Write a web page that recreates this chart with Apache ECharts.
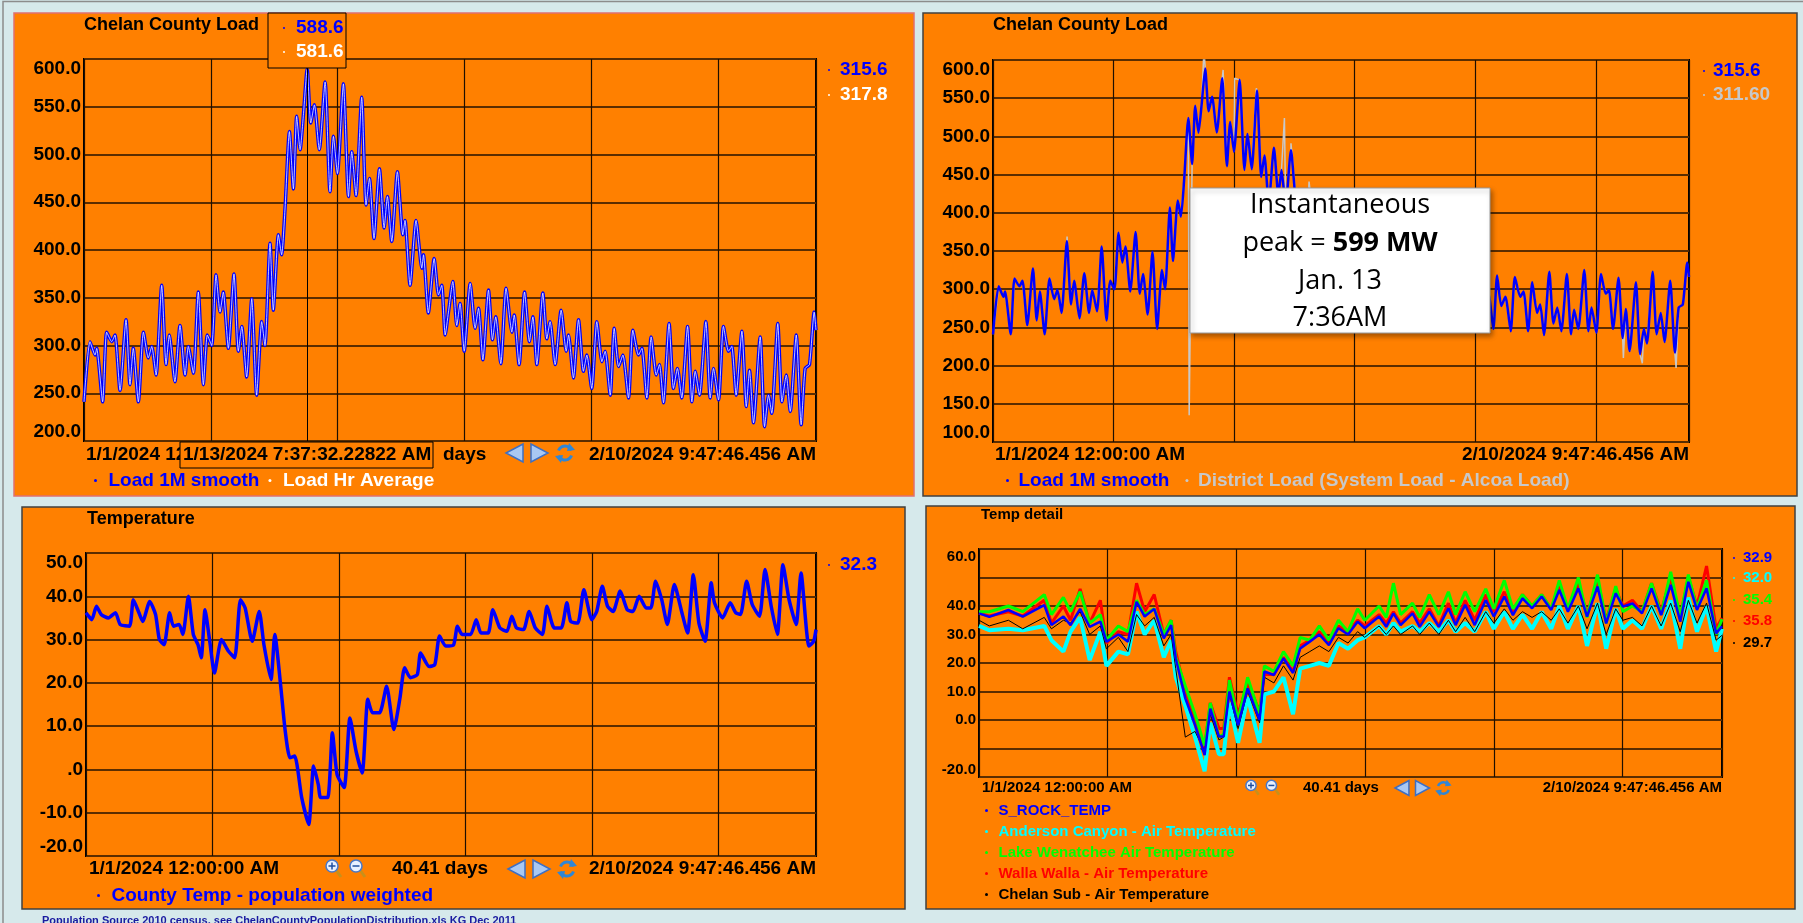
<!DOCTYPE html>
<html>
<head>
<meta charset="utf-8">
<title>Chelan County Load</title>
<script src="https://cdn.jsdelivr.net/npm/echarts@6/dist/echarts.min.js"></script>
<style>
html, body { margin: 0; padding: 0; background: #d6e9eb; overflow: hidden; }
#main { width: 1803px; height: 923px; }
</style>
</head>
<body>
<div id="main"></div>
<script>
var FONT = '"Liberation Sans", Arial, sans-serif';
var ORANGE = '#ff8000';

// x axis runs in days from 1/1/2024 12:00:00 AM
var TOTAL_DAYS = 40.41;   // 2/10/2024 9:47:46.456 AM
var CURSOR_DAY = 12.317;  // 1/13/2024 7:37:32 AM

// Load 1M smooth (MW)
var loadDays = [
  0,0.33,0.61,0.70,1.03,1.25,1.53,1.71,1.99,2.32,
  2.54,2.72,3.00,3.28,3.55,3.74,3.98,4.29,4.53,4.71,
  5.02,5.30,5.58,5.76,6.04,6.31,6.59,6.81,7.05,7.29,
  7.51,7.69,7.97,8.28,8.52,8.71,8.98,9.26,9.53,9.81,
  9.99,10.27,10.45,10.73,10.91,11.10,11.34,11.56,11.74,11.93,
  12.11,12.32,12.52,12.72,12.99,13.31,13.58,13.77,13.99,14.32,
  14.60,14.78,15.02,15.33,15.57,15.76,16.01,16.31,16.57,16.75,
  16.99,17.30,17.60,17.72,18.00,18.33,18.65,18.74,19.01,19.33,
  19.57,19.75,19.94,20.12,20.36,20.58,20.76,20.99,21.32,21.59,
  21.78,22.02,22.33,22.55,22.73,23.01,23.30,23.62,23.75,24.02,
  24.32,24.59,24.78,25.00,25.33,25.55,25.73,26.01,26.34,26.62,
  26.75,27.02,27.30,27.57,27.76,28.03,28.31,28.59,28.77,29.05,
  29.27,29.51,29.75,30.06,30.30,30.61,30.80,31.07,31.31,31.59,
  31.77,31.99,32.30,32.54,32.76,33.00,33.32,33.56,33.74,33.98,
  34.33,34.57,34.75,35.03,35.30,35.58,35.76,36.00,36.32,36.56,
  36.74,36.96,37.33,37.57,37.79,37.97,38.30,38.53,38.77,38.99,
  39.32,39.59,39.81,40.05,40.31,40.41
];
var loadMW = [
  241,304,290,297,241,314,304,311,253,327,
  259,297,241,314,287,299,269,363,280,311,
  262,321,269,299,271,356,259,311,300,374,
  335,356,297,375,294,320,267,349,248,325,
  300,407,337,416,395,444,524,464,540,505,
  541,589,533,552,505,576,461,519,480,574,
  456,503,457,560,447,475,412,485,423,456,
  409,482,416,431,363,431,381,395,334,391,
  353,363,311,335,367,321,344,294,365,318,
  339,285,358,306,330,281,360,314,332,280,
  356,304,330,280,355,307,325,280,337,294,
  311,266,327,273,290,255,325,283,294,248,
  318,278,290,245,316,290,297,245,309,269,
  280,240,323,255,276,245,320,241,273,248,
  325,245,276,243,320,294,299,248,315,236,
  274,219,309,215,248,229,323,241,269,231,
  311,217,276,280,335,316
];

// District Load extra spikes that stick out of the smooth load
var spikeDays = [4.30, 11.39, 12.25, 13.36, 14.03, 15.29, 16.92, 17.30, 18.35, 36.60, 37.70, 39.66];
var spikeMW   = [369, 135, 615, 587, 576, 563, 524, 491, 441, 210, 203, 197];

// County Temp - population weighted (F)
var tempDays = [
  0.00,0.32,0.58,0.84,1.24,1.63,1.89,2.41,2.62,2.93,
  3.14,3.53,3.85,4.06,4.32,4.63,4.84,5.15,5.36,5.67,
  5.94,6.20,6.38,6.59,6.85,7.11,7.50,7.89,8.23,8.55,
  8.81,9.20,9.59,9.85,10.24,10.45,10.77,11.03,11.29,11.55,
  11.94,12.33,12.60,12.86,12.99,13.38,13.64,13.90,14.29,14.61,
  14.95,15.29,15.60,15.86,16.25,16.64,17.04,17.38,17.64,17.95,
  18.34,18.52,18.99,19.31,19.57,19.91,20.35,20.56,20.82,21.29,
  21.60,21.87,22.26,22.52,22.91,23.30,23.57,23.83,24.22,24.53,
  24.87,25.26,25.52,25.92,26.31,26.62,26.83,27.22,27.56,28.00,
  28.27,28.58,28.87,29.18,29.57,29.96,30.28,30.62,31.01,31.27,
  31.53,31.87,32.18,32.57,32.97,33.30,33.62,33.93,34.27,34.61,
  34.79,35.24,35.66,35.97,36.23,36.57,36.88,37.28,37.59,37.93,
  38.27,38.58,38.92,39.31,39.58,40.02,40.28,40.41
];
var tempF = [
  36.2,34.6,37.7,35.8,35.0,36.2,33.5,33.1,39.2,36.2,
  34.2,38.8,35.8,30.0,28.8,36.2,33.1,33.5,31.2,40.0,
  31.2,28.8,25.8,36.9,29.6,22.3,30.0,27.3,25.8,39.2,
  37.3,29.6,36.5,28.8,20.8,31.2,19.6,8.8,2.7,3.1,
  -6.5,-12.7,0.8,-3.5,-6.5,-6.5,8.5,-1.2,-4.2,11.9,
  4.2,-0.8,16.2,13.1,13.1,19.2,9.2,16.5,23.5,21.2,
  21.9,26.9,23.8,24.2,30.8,28.5,28.8,33.1,31.2,31.2,
  34.6,31.5,31.5,36.9,32.7,31.9,35.4,32.7,32.3,36.5,
  32.7,31.2,37.7,32.7,32.7,38.5,34.2,33.8,41.5,34.6,
  36.5,42.3,37.7,36.5,41.2,36.9,36.5,40.0,37.3,37.3,
  43.5,39.2,33.5,42.7,36.5,31.5,45.0,33.8,29.6,43.1,
  38.5,35.0,38.5,36.2,35.8,43.5,38.1,35.4,46.2,37.7,
  31.2,47.3,39.2,33.5,45.4,28.5,29.6,32.3
];

// Temp detail stations, sampled at common times
var detailDays = [
  0,0.56,1.6,2.38,3.55,3.94,4.59,4.98,5.5,6.02,
  6.6,6.93,7.58,8.1,8.57,9.01,9.53,10.05,10.45,10.7,
  11.22,11.75,12.27,12.58,13.05,13.31,13.62,14.09,14.61,15.26,
  15.52,16.04,16.56,17.08,17.47,17.99,18.51,19.03,19.55,20.07,
  20.59,20.98,21.76,22.15,22.54,22.93,23.58,23.97,24.49,25.01,
  25.53,25.92,26.44,26.96,27.56,28.0,28.57,29.04,29.56,30.08,
  30.6,31.12,31.56,32.03,32.6,33.07,33.64,34.11,34.63,35.02,
  35.54,36.06,36.58,37.1,37.62,38.14,38.58,39.05,39.57,40.09,
  40.41
];
var sRockTemp = [
  37.4,36.2,38.6,36.3,40.3,33.3,36.3,33.3,39,32.7,
  34.5,27.5,30,27.5,41.5,36.3,39,28.6,33.3,21.6,
  7.6,-1.8,-12.3,4,-5.8,-5.8,10,-1.8,11.1,0,
  17,15.8,21.6,16.5,25.1,27.5,30,26.3,32.2,30,
  34.5,32.2,36.3,32.7,37.4,33.3,37.4,32.7,38,32.7,
  39.2,33.3,40.4,33.3,42.1,36.3,43.3,36.8,42.7,39.2,
  43.3,38.6,45.6,38,46.2,36.3,46.8,33.9,44.4,39.8,
  40.9,37.4,46.2,36.8,47.4,34.5,48.5,38.6,46.2,30.4,
  32.9
];
var andersonTemp = [
  33,31.5,32,31.5,33,28,24,31,36,21,
  31,19,24,23,38,30,35,22,28,15,
  5,-6,-18,-1,-12,-12,6,-8,8,-8,
  9,10,15,2,18,19,20,19,27,25,
  28,29,33,30,34,31,33,31,34,31,
  35,31,34,31,38,32,38,32,37,32,
  38,32,40,32,40,26,41,25,39,32,
  35,32,40,32,42,25,43,31,40,24,
  32.0
];
var wenatcheeTemp = [
  38,38,40,38,44,37,43,38,45,34,
  37,28,33,31,42,37,39,30,35,22,
  12,2,-9,6,-6,-5,14,0,15,2,
  19,17,24,19,29,28,33,28,35,31,
  39,35,40,36,48,37,41,36,44,37,
  45,37,45,38,46,39,49,39,44,40,
  44,39,49,39,50,36,51,34,47,38,
  40,38,48,37,52,36,51,39,49,30,
  35.4
];
var wallaTemp = [
  37.5,36.5,38,36.5,42,34,40,35,46,34,
  42,27,31,30,48,38,44,30,35,24,
  10,0,-10,6,-3,-3,15,2,13,3,
  16,16,22,17,26,28,31,27,33,31,
  35,33,37,34,38,34,38,34,39,33,
  41,34,42,35,44,38,45,38,44,40,
  44,39,47,39,48,37,49,35,46,40,
  42,38,48,38,50,36,50,40,54,32,
  35.8
];
var chelanSubTemp = [
  35,33,35,32,36,32,35,34,38,30,
  33,25,29,24,37,33,36,26,30,18,
  -6,-4,-11,2,-7,-6,9,-3,10,-1,
  15,13,19,14,22,24,26,24,29,27,
  31,29,33,30,33,30,33,30,34,30,
  35,31,36,31,38,34,39,35,38,36,
  38,35,39,34,40,32,41,30,39,35,
  36,33,40,33,41,31,42,34,41,28,
  29.7
];

var startLabel = '1/1/2024 12:00:00 AM';
var endLabel = '2/10/2024 9:47:46.456 AM';
var cursorLabel = '1/13/2024 7:37:32.22822 AM';
var spanLabel = '40.41 days';

function pairs(xs, ys) {
  return xs.map(function (x, i) { return [x, ys[i]]; });
}
var loadPts = pairs(loadDays, loadMW);
var districtPts = loadPts.concat(pairs(spikeDays, spikeMW)).sort(function (a, b) { return a[0] - b[0]; });

var chart = echarts.init(document.getElementById('main'), null, { renderer: 'canvas' });

// grids in page pixels
var grids = [
  { left: 84, top: 59, width: 732, height: 382 },
  { left: 993, top: 60, width: 696, height: 382 },
  { left: 86, top: 553, width: 730, height: 303 },
  { left: 979, top: 549, width: 743, height: 228 }
];
grids.forEach(function (g) {
  g.show = true; g.borderColor = '#000'; g.borderWidth = 2; g.backgroundColor = 'transparent';
});

function xAx(i) {
  return {
    type: 'value', gridIndex: i, min: 0, max: TOTAL_DAYS, interval: 7,
    axisLabel: { show: false }, axisTick: { show: false }, axisLine: { show: false },
    splitLine: { show: true, lineStyle: { color: '#1e0f00', width: 1.2 } }
  };
}
function yAx(i, min, max, step, size, fmt) {
  return {
    type: 'value', gridIndex: i, min: min, max: max, interval: step,
    axisTick: { show: false }, axisLine: { show: false },
    splitLine: { show: true, lineStyle: { color: '#5a2d00', width: 2 } },
    axisLabel: {
      color: '#000', fontWeight: 'bold', fontSize: size, fontFamily: FONT, margin: 3,
      verticalAlignMaxLabel: 'top', verticalAlignMinLabel: 'bottom',
      formatter: fmt || function (v) { return v.toFixed(1); }
    }
  };
}

function line(name, idx, data, color, width, z, smooth) {
  return {
    name: name, type: 'line', xAxisIndex: idx, yAxisIndex: idx, data: data,
    showSymbol: false, symbol: 'none', silent: true, z: z || 2, smooth: smooth || false,
    lineStyle: { color: color, width: width }, itemStyle: { color: color },
    emphasis: { disabled: true }
  };
}

var s0 = line('Load 1M smooth', 0, loadPts, '#0000ff', 3.5, 3, 0.2);
s0.markLine = {
  silent: true, symbol: 'none', label: { show: false }, animation: false,
  lineStyle: { color: '#000', width: 1, type: 'solid' },
  data: [{ xAxis: CURSOR_DAY }]
};
var s1 = line('Load Hr Average', 0, loadPts, '#ffffff', 0.9, 4, 0.2);
s1.lineStyle.opacity = 0.85;

var series = [
  s0,
  s1,
  line('District Load (System Load - Alcoa Load)', 1, districtPts, '#c8c8c8', 1.5, 2),
  line('Load 1M smooth', 1, loadPts, '#0000ff', 2.5, 3, 0.2),
  line('County Temp - population weighted', 2, pairs(tempDays, tempF), '#0000ff', 3.5, 3, 0.2),
  line('Walla Walla - Air Temperature', 3, pairs(detailDays, wallaTemp), '#ff0000', 3, 2),
  line('Lake Wenatchee Air Temperature', 3, pairs(detailDays, wenatcheeTemp), '#00ff00', 3, 3),
  line('Anderson Canyon - Air Temperature', 3, pairs(detailDays, andersonTemp), '#00ffff', 4, 4),
  line('Chelan Sub - Air Temperature', 3, pairs(detailDays, chelanSubTemp), '#000000', 1, 5),
  line('S_ROCK_TEMP', 3, pairs(detailDays, sRockTemp), '#0000ff', 2.5, 6)
];

// ---- graphic helpers
function txt(x, y, s, color, size, align, z) {
  return {
    type: 'text', silent: true, z: z || 60,
    style: {
      text: s, x: x, y: y, fill: color,
      font: 'bold ' + size + 'px ' + FONT,
      align: align || 'left', verticalAlign: 'middle',
      textAlign: align || 'left', textVerticalAlign: 'middle'
    }
  };
}
function dot(x, y, color, z) {
  return { type: 'circle', silent: true, z: z || 60, shape: { cx: x, cy: y, r: 1 }, style: { fill: color } };
}
function panel(x, y, w, h, stroke) {
  return {
    type: 'rect', silent: true, z: -10,
    shape: { x: x, y: y, width: w, height: h },
    style: { fill: ORANGE, stroke: stroke, lineWidth: 1.5 }
  };
}
function box(x, y, w, h) {
  return {
    type: 'rect', silent: true, z: 80,
    shape: { x: x, y: y, width: w, height: h },
    style: { fill: ORANGE, stroke: '#000', lineWidth: 1 }
  };
}
function navIcons(x, y, s) {
  var h = 9 * s;
  return [
    { type: 'polygon', silent: true, z: 60, shape: { points: [[x, y], [x + 17 * s, y - h], [x + 17 * s, y + h]] },
      style: { fill: '#a9c8f2', stroke: '#3d6fc4', lineWidth: 1.5 } },
    { type: 'polygon', silent: true, z: 60, shape: { points: [[x + 25 * s, y - h], [x + 25 * s, y + h], [x + 42 * s, y]] },
      style: { fill: '#a9c8f2', stroke: '#3d6fc4', lineWidth: 1.5 } },
    { type: 'arc', silent: true, z: 60, shape: { cx: x + 59 * s, cy: y, r: 7 * s, startAngle: 3.5, endAngle: 5.9 },
      style: { fill: null, stroke: '#2f86d6', lineWidth: 3 * s } },
    { type: 'arc', silent: true, z: 60, shape: { cx: x + 59 * s, cy: y, r: 7 * s, startAngle: 0.35, endAngle: 2.75 },
      style: { fill: null, stroke: '#2f86d6', lineWidth: 3 * s } },
    { type: 'polygon', silent: true, z: 60, shape: { points: [[x + 63 * s, y - 10 * s], [x + 69 * s, y - 3 * s], [x + 61 * s, y - 2 * s]] },
      style: { fill: '#2f86d6' } },
    { type: 'polygon', silent: true, z: 60, shape: { points: [[x + 55 * s, y + 10 * s], [x + 49 * s, y + 3 * s], [x + 57 * s, y + 2 * s]] },
      style: { fill: '#2f86d6' } }
  ];
}
function zoomIcons(x, y, s) {
  var out = [];
  [0, 1].forEach(function (k) {
    var cx = x + k * 24 * s, cy = y - 3 * s, r = 6 * s;
    out.push({ type: 'line', silent: true, z: 60, shape: { x1: cx + 4 * s, y1: cy + 4 * s, x2: cx + 9 * s, y2: cy + 11 * s },
      style: { stroke: '#c8901a', lineWidth: 3 * s } });
    out.push({ type: 'circle', silent: true, z: 61, shape: { cx: cx, cy: cy, r: r },
      style: { fill: '#e8f0ff', stroke: '#4a78c8', lineWidth: 1.5 } });
    out.push({ type: 'line', silent: true, z: 62, shape: { x1: cx - 3.5 * s, y1: cy, x2: cx + 3.5 * s, y2: cy },
      style: { stroke: '#2050a0', lineWidth: 1.5 } });
    if (k === 0) {
      out.push({ type: 'line', silent: true, z: 62, shape: { x1: cx, y1: cy - 3.5 * s, x2: cx, y2: cy + 3.5 * s },
        style: { stroke: '#2050a0', lineWidth: 1.5 } });
    }
  });
  return out;
}

var graphics = [
  { type: 'rect', silent: true, z: -20, shape: { x: 3, y: 1.5, width: 1810, height: 930 },
    style: { fill: '#d6e9eb', stroke: '#8c8c8c', lineWidth: 1.5 } },
  panel(14, 13, 900, 483, '#e07070'),
  panel(923, 13, 874, 483, '#404040'),
  panel(22, 507, 883, 402, '#404040'),
  panel(926, 506, 869, 403, '#404040'),

  // panel 1 texts
  dot(829, 70, '#0000ff'), txt(840, 70, '315.6', '#0000ff', 19),
  dot(829, 95, '#ffffff'), txt(840, 95, '317.8', '#ffffff', 19),
  txt(86, 455, startLabel, '#000', 19),
  txt(443, 455, 'days', '#000', 19),
  txt(816, 455, endLabel, '#000', 19, 'right'),
  box(180, 442, 253, 26),
  txt(183, 455, cursorLabel, '#000', 19, 'left', 85),
  box(268, 13, 78, 55),
  dot(284, 28, '#0000ff', 85), txt(296, 28, '588.6', '#0000ff', 19, 'left', 85),
  dot(284, 52, '#ffffff', 85), txt(296, 52, '581.6', '#ffffff', 19, 'left', 85),

  // panel 2 texts
  dot(1704, 71, '#0000ff'), txt(1713, 71, '315.6', '#0000ff', 19),
  dot(1704, 95, '#c8c8c8'), txt(1713, 95, '311.60', '#c8c8c8', 19),
  txt(995, 455, startLabel, '#000', 19),
  txt(1689, 455, endLabel, '#000', 19, 'right'),
  { type: 'rect', silent: true, z: 70, shape: { x: 1190, y: 188, width: 300, height: 145 },
    style: { fill: '#ffffff', stroke: '#9a9a9a', lineWidth: 1,
      shadowBlur: 5, shadowColor: 'rgba(0,0,0,0.35)', shadowOffsetX: 2, shadowOffsetY: 3 } },
  { type: 'text', silent: true, z: 71,
    style: { text: 'Instantaneous', x: 1340, y: 205, fill: '#000', font: '27px "Open Sans", sans-serif',
      align: 'center', verticalAlign: 'middle', textAlign: 'center', textVerticalAlign: 'middle' } },
  { type: 'text', silent: true, z: 71,
    style: { text: '{n|peak = }{b|599 MW}', x: 1340, y: 243, fill: '#000',
      align: 'center', verticalAlign: 'middle', textAlign: 'center', textVerticalAlign: 'middle',
      rich: { n: { fontSize: 27, fontFamily: '"Open Sans", sans-serif', fill: '#000' },
              b: { fontSize: 27, fontWeight: 'bold', fontFamily: '"Open Sans", sans-serif', fill: '#000' } } } },
  { type: 'text', silent: true, z: 71,
    style: { text: 'Jan. 13', x: 1340, y: 281, fill: '#000', font: '27px "Open Sans", sans-serif',
      align: 'center', verticalAlign: 'middle', textAlign: 'center', textVerticalAlign: 'middle' } },
  { type: 'text', silent: true, z: 71,
    style: { text: '7:36AM', x: 1340, y: 318, fill: '#000', font: '27px "Open Sans", sans-serif',
      align: 'center', verticalAlign: 'middle', textAlign: 'center', textVerticalAlign: 'middle' } },

  // panel 3 texts
  dot(829, 565, '#0000ff'), txt(840, 565, '32.3', '#0000ff', 19),
  txt(89, 869, startLabel, '#000', 19),
  txt(392, 869, spanLabel, '#000', 19),
  txt(816, 869, endLabel, '#000', 19, 'right'),
  { type: 'text', silent: true, z: 60,
    style: { text: 'Population Source 2010 census, see ChelanCountyPopulationDistribution.xls KG Dec 2011',
      x: 42, y: 915, fill: '#1a1aa0', font: 'bold 11px ' + FONT, align: 'left', verticalAlign: 'top',
      textAlign: 'left', textVerticalAlign: 'top' } },

  // panel 4 texts
  dot(1734, 558, '#0000ff'), txt(1743, 558, '32.9', '#0000ff', 15),
  dot(1734, 578, '#00ffff'), txt(1743, 578, '32.0', '#00ffff', 15),
  dot(1734, 600, '#00ff00'), txt(1743, 600, '35.4', '#00ff00', 15),
  dot(1734, 621, '#ff0000'), txt(1743, 621, '35.8', '#ff0000', 15),
  dot(1734, 643, '#000000'), txt(1743, 643, '29.7', '#000000', 15),
  txt(982, 788, startLabel, '#000', 15),
  txt(1303, 788, spanLabel, '#000', 15),
  txt(1722, 788, endLabel, '#000', 15, 'right')
];
graphics = graphics
  .concat(navIcons(506, 453, 1))
  .concat(navIcons(508, 869, 1))
  .concat(navIcons(1395, 788, 0.82))
  .concat(zoomIcons(332, 869, 1))
  .concat(zoomIcons(1251, 788, 0.85));

function legend(left, top, size, iconW, gap, items, orient) {
  return {
    left: left, top: top, orient: orient || 'horizontal', padding: 0,
    icon: 'circle', itemWidth: iconW, itemHeight: 3, itemGap: gap,
    selectedMode: false,
    textStyle: { fontSize: size, fontWeight: 'bold', fontFamily: FONT },
    data: items.map(function (it) { return { name: it[0], textStyle: { color: it[1] } }; })
  };
}

var titleStyle = { color: '#000', fontWeight: 'bold', fontSize: 18, fontFamily: FONT };

var option = {
  animation: false,
  backgroundColor: '#d6e9eb',
  textStyle: { fontFamily: FONT },
  title: [
    { text: 'Chelan County Load', left: 84, top: 16, padding: 0, textStyle: titleStyle },
    { text: 'Chelan County Load', left: 993, top: 16, padding: 0, textStyle: titleStyle },
    { text: 'Temperature', left: 87, top: 510, padding: 0, textStyle: titleStyle },
    { text: 'Temp detail', left: 981, top: 507, padding: 0,
      textStyle: { color: '#000', fontWeight: 'bold', fontSize: 15, fontFamily: FONT } }
  ],
  legend: [
    legend(94, 471, 19, 16, 9, [['Load 1M smooth', '#0000ff'], ['Load Hr Average', '#ffffff']]),
    legend(1006, 471, 19, 12, 16, [['Load 1M smooth', '#0000ff'], ['District Load (System Load - Alcoa Load)', '#c8c8c8']]),
    legend(97, 886, 19, 16, 10, [['County Temp - population weighted', '#0000ff']]),
    legend(985, 803, 15, 14, 6, [
      ['S_ROCK_TEMP', '#0000ff'],
      ['Anderson Canyon - Air Temperature', '#00ffff'],
      ['Lake Wenatchee Air Temperature', '#00ff00'],
      ['Walla Walla - Air Temperature', '#ff0000'],
      ['Chelan Sub - Air Temperature', '#000000']
    ], 'vertical')
  ],
  grid: grids,
  xAxis: [xAx(0), xAx(1), xAx(2), xAx(3)],
  yAxis: [
    yAx(0, 200, 600, 50, 19),
    yAx(1, 100, 600, 50, 19),
    yAx(2, -20, 50, 10, 19, function (v) { return v === 0 ? '.0' : v.toFixed(1); }),
    yAx(3, -20, 60, 10, 15, function (v) { return (v === 50 || v === -10) ? '' : v.toFixed(1); })
  ],
  graphic: { elements: graphics },
  series: series
};

chart.setOption(option);
</script>
</body>
</html>
